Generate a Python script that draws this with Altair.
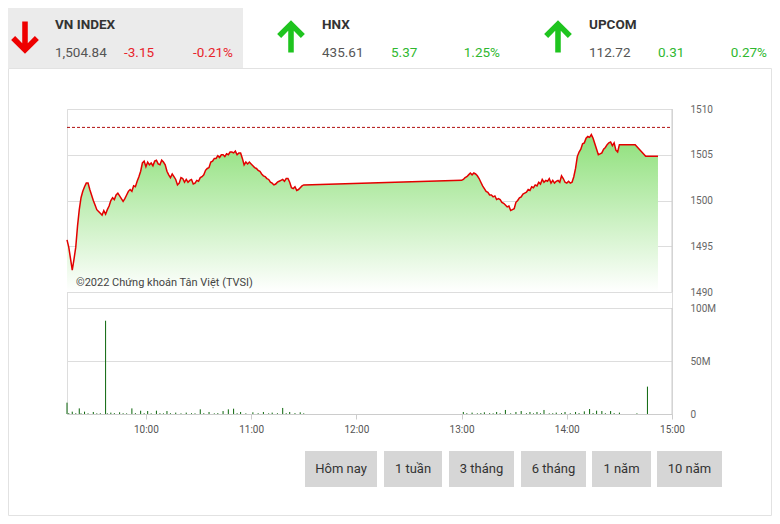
import altair as alt
import pandas as pd

# ---------------- data ----------------
price_times = ["09:15", "09:16", "09:18", "09:20", "09:22", "09:25", "09:27", "09:30", "09:33", "09:35",
               "09:38", "09:40", "09:44", "09:47", "09:51", "09:54", "09:57", "09:58",
               "10:02", "10:06", "10:08", "10:10", "10:13", "10:16", "10:18", "10:21", "10:25", "10:28",
               "10:32", "10:35", "10:39", "10:44", "10:49", "10:53", "10:56", "10:59",
               "11:05", "11:09", "11:13", "11:17", "11:21", "11:24", "11:27", "11:30",
               "13:00", "13:04", "13:07", "13:10", "13:13", "13:17", "13:21", "13:25", "13:29", "13:32",
               "13:36", "13:40", "13:48", "13:54", "13:58",
               "14:02", "14:04", "14:06", "14:09", "14:12", "14:14", "14:16", "14:18", "14:20", "14:23",
               "14:25", "14:28", "14:29", "14:30", "14:39", "14:45", "14:52"]
price_values = [1495.7, 1494.9, 1492.4, 1494.9, 1499.0, 1501.5, 1501.9, 1500.0, 1498.8, 1498.4,
                1499.0, 1500.0, 1500.8, 1499.9, 1501.2, 1501.5, 1503.2, 1504.1,
                1503.9, 1504.4, 1503.9, 1504.2, 1502.8, 1502.6, 1501.7, 1502.4, 1502.2, 1501.9,
                1502.6, 1503.5, 1504.6, 1505.0, 1505.3, 1505.2, 1503.9, 1504.2,
                1503.2, 1502.4, 1501.7, 1502.2, 1502.4, 1501.3, 1501.2, 1501.7,
                1502.2, 1502.8, 1503.0, 1502.4, 1501.3, 1500.6, 1500.2, 1499.5, 1499.0, 1500.0,
                1500.8, 1501.5, 1502.2, 1502.1, 1502.4,
                1501.9, 1502.6, 1504.8, 1506.2, 1507.0, 1507.2, 1506.2, 1505.0, 1505.2, 1506.1,
                1506.4, 1505.5, 1505.3, 1506.1, 1506.1, 1504.84, 1504.84]

# finer readings of the jagged intraday line
detail_times = ["09:19", "09:21", "09:23", "09:24", "09:26", "09:28", "09:29", "09:31", "09:32", "09:34",
                "09:36", "09:37", "09:39", "09:41", "09:42", "09:43", "09:45", "09:46", "09:48", "09:49",
                "09:50", "09:52", "09:53", "09:55", "09:56", "09:59", "10:00", "10:01", "10:03", "10:04",
                "10:05", "10:07", "10:09", "10:11", "10:12", "10:14", "10:15", "10:17", "10:19", "10:20",
                "10:22", "10:23", "10:24", "10:26", "10:27", "10:29", "10:30", "10:31", "10:33", "10:34",
                "10:36", "10:37", "10:38", "10:40", "10:41", "10:42", "10:43", "10:45", "10:46", "10:47",
                "10:48", "10:50", "10:51", "10:52", "10:54", "10:55", "10:57", "10:58", "11:00", "11:01",
                "11:02", "11:03", "11:04", "11:06", "11:07", "11:08", "11:10", "11:11", "11:12", "11:14",
                "11:15", "11:16", "11:18", "11:19", "11:20", "11:22", "11:23", "11:25", "11:26", "11:28",
                "11:29",
                "13:01", "13:02", "13:03", "13:05", "13:06", "13:08", "13:09", "13:11", "13:12", "13:14",
                "13:15", "13:16", "13:18", "13:19", "13:20", "13:22", "13:23", "13:24", "13:26", "13:27",
                "13:28", "13:30", "13:31", "13:33", "13:34", "13:35", "13:37", "13:38", "13:39", "13:41",
                "13:42", "13:43", "13:44", "13:45", "13:46", "13:47", "13:49", "13:50", "13:51", "13:52",
                "13:53", "13:55", "13:56", "13:57", "13:59", "14:00", "14:01", "14:03", "14:05", "14:07",
                "14:08", "14:10", "14:11", "14:13", "14:15", "14:17", "14:19", "14:21", "14:22", "14:24",
                "14:26", "14:27"]
detail_values = [1493.6, 1497.2, 1500.3, 1501.0, 1501.9, 1501.2, 1500.6, 1499.5, 1499.0, 1498.6,
                 1498.9, 1498.5, 1499.4, 1500.3, 1500.1, 1500.6, 1500.5, 1500.2, 1500.2, 1500.6,
                 1501.0, 1501.0, 1501.6, 1502.1, 1502.6, 1504.3, 1503.7, 1504.2, 1504.1, 1503.8,
                 1504.3, 1504.0, 1504.4, 1503.9, 1503.2, 1502.5, 1502.9, 1502.3, 1501.9, 1502.5,
                 1502.0, 1502.3, 1502.0, 1502.3, 1501.8, 1502.2, 1502.1, 1502.5, 1502.8, 1503.3,
                 1503.6, 1504.2, 1504.3, 1504.6, 1504.9, 1504.7, 1505.0, 1504.8, 1505.1, 1505.0,
                 1505.3, 1505.2, 1505.4, 1505.0, 1505.2, 1504.6, 1504.2, 1504.0, 1504.0, 1503.8,
                 1503.6, 1503.5, 1503.3, 1502.9, 1502.7, 1502.6, 1502.3, 1502.0, 1501.9, 1501.8,
                 1502.0, 1502.1, 1502.3, 1502.1, 1502.4, 1502.0, 1501.4, 1501.5, 1501.1, 1501.4,
                 1501.6,
                 1502.3, 1502.5, 1502.6, 1503.0, 1502.8, 1502.9, 1502.7, 1502.0, 1501.6, 1501.0,
                 1500.9, 1500.6, 1500.4, 1500.5, 1500.1, 1500.1, 1499.8, 1499.7, 1499.3, 1499.4,
                 1498.9, 1499.1, 1499.8, 1500.3, 1500.4, 1500.7, 1500.9, 1501.2, 1501.1, 1501.4,
                 1501.7, 1501.6, 1502.0, 1501.8, 1502.3, 1502.0, 1502.1, 1502.4, 1501.9, 1502.2,
                 1501.9, 1502.2, 1502.0, 1502.7, 1502.0, 1501.9, 1502.1, 1502.0, 1503.5, 1505.3,
                 1505.6, 1506.3, 1506.8, 1506.9, 1506.8, 1505.6, 1505.1, 1505.6, 1505.8, 1506.3,
                 1506.0, 1506.3]
reference_close = 1507.99

vol_times = ["09:15", "09:16", "09:18", "09:20", "09:22", "09:23", "09:25", "09:27", "09:30", "09:32",
             "09:34", "09:37", "09:38", "09:40", "09:42", "09:45", "09:47", "09:49", "09:52", "09:54",
             "09:57", "09:59", "10:01", "10:03", "10:06", "10:08", "10:10", "10:12", "10:14", "10:17",
             "10:20", "10:23", "10:26", "10:28", "10:31", "10:33", "10:36", "10:39", "10:41", "10:44",
             "10:47", "10:50", "10:52", "10:54", "10:57", "11:01", "11:04", "11:07", "11:10", "11:12",
             "11:15", "11:18", "11:20", "11:22", "11:25", "11:28", "11:30",
             "13:01", "13:03", "13:06", "13:09", "13:11", "13:13", "13:16", "13:18", "13:20", "13:22",
             "13:25", "13:28", "13:31", "13:34", "13:37", "13:39", "13:41", "13:43", "13:45", "13:47",
             "13:50", "13:52", "13:54", "13:57", "13:59", "14:02", "14:05", "14:07", "14:10", "14:13",
             "14:15", "14:17", "14:20", "14:22", "14:25", "14:27", "14:30", "14:40", "14:46"]
vol_values = [10.7, 0.8, 2.2, 0.7, 5.3, 0.6, 2.2, 0.6, 1.9, 0.6,
              0.7, 88.0, 0.6, 1.3, 0.8, 1.6, 0.7, 0.6, 5.3, 0.8,
              3.1, 0.7, 2.8, 0.6, 3.1, 0.7, 0.6, 2.8, 0.7, 1.3,
              0.6, 1.3, 0.7, 0.6, 4.4, 0.7, 1.9, 0.6, 0.8, 2.8,
              4.4, 5.0, 0.7, 1.9, 0.6, 1.6, 0.7, 1.9, 0.6, 1.3,
              0.7, 5.7, 0.7, 1.9, 0.8, 1.6, 0.6,
              1.9, 0.7, 1.3, 0.6, 0.8, 1.6, 0.7, 0.6, 1.9, 0.7,
              3.8, 0.6, 1.9, 2.8, 0.7, 1.9, 0.6, 1.9, 0.7, 3.8,
              0.6, 0.7, 1.3, 0.8, 1.9, 0.7, 1.9, 0.8, 2.5, 4.7,
              0.8, 3.1, 2.8, 0.7, 2.8, 0.8, 1.3, 0.6, 25.8]  # millions

price_ticks = [1490, 1495, 1500, 1505, 1510]
vol_ticks = [0, 50, 100]
time_ticks = ["10:00", "11:00", "12:00", "13:00", "14:00", "15:00"]
time_start, time_end = "09:15", "15:00"

idx_names = ["VN INDEX", "HNX", "UPCOM"]
idx_values = ["1,504.84", "435.61", "112.72"]
idx_changes = ["-3.15", "5.37", "0.31"]
idx_pcts = ["-0.21%", "1.25%", "0.27%"]
idx_up = [False, True, True]

buttons = ["Hôm nay", "1 tuần", "3 tháng", "6 tháng", "1 năm", "10 năm"]
watermark = "©2022 Chứng khoán Tân Việt (TVSI)"

assert len(price_times) == len(price_values)
assert len(detail_times) == len(detail_values)
assert len(vol_times) == len(vol_values)


def to_min(s):
    h, m = s.split(":")
    return int(h) * 60 + int(m)


price_df = pd.DataFrame({"t": [to_min(s) for s in price_times + detail_times],
                         "v": price_values + detail_values})
price_df = price_df.drop_duplicates("t").sort_values("t").reset_index(drop=True)
vol_df = pd.DataFrame({"t": [to_min(s) for s in vol_times], "v": vol_values})

# ---------------- layout ----------------
W, H = 605, 305
P_TOP_PX, P_BOT_PX = 0, 183      # price panel rows
V_TOP_PX, V_BOT_PX = 199, 305    # volume panel rows
FONT = "Roboto"

p_per_px = (max(price_ticks) - min(price_ticks)) / (P_BOT_PX - P_TOP_PX)
p_dom = [max(price_ticks) - H * p_per_px, max(price_ticks)]
v_per_px = (max(vol_ticks) - min(vol_ticks)) / (V_BOT_PX - V_TOP_PX)
v_dom = [0, max(vol_ticks) + V_TOP_PX * v_per_px]

x_scale = alt.Scale(domain=[to_min(time_start), to_min(time_end)], nice=False, zero=False)
x_axis = alt.Axis(values=[to_min(s) for s in time_ticks],
                  labelExpr="floor(datum.value/60) + ':' + format(datum.value % 60, '02d')",
                  grid=False, domainColor="#cccccc", tickColor="#cccccc", tickSize=5,
                  labelColor="#555555", labelFontSize=10, labelFont=FONT, labelPadding=5,
                  labelFlush=False, title=None)
p_axis = alt.Axis(orient="right", values=price_ticks, grid=True, gridColor="#dddddd",
                  domain=False, ticks=False, tickSize=0, labelPadding=18, offset=0,
                  labelColor="#666666", labelFontSize=10, labelFont=FONT, title=None,
                  labelFlush=False, format="d")
v_axis = alt.Axis(orient="right", values=vol_ticks, grid=True, gridColor="#dddddd",
                  domain=False, ticks=False, tickSize=0, labelPadding=18, offset=0,
                  labelColor="#666666", labelFontSize=10, labelFont=FONT, title=None,
                  labelFlush=False,
                  labelExpr="datum.value == 0 ? '0' : datum.value + 'M'")
p_scale = alt.Scale(domain=p_dom, nice=False, zero=False)
v_scale = alt.Scale(domain=v_dom, nice=False, zero=False)

X = alt.X("t:Q", scale=x_scale, axis=x_axis)

# ---------------- price panel ----------------
grad = alt.Gradient(gradient="linear",
                    stops=[alt.GradientStop(color="#8ee07a", offset=0),
                           alt.GradientStop(color="#ffffff", offset=1)],
                    x1=1, x2=1, y1=0, y2=1)
area = alt.Chart(price_df).mark_area(color=grad, interpolate="linear").encode(
    x=X, y=alt.Y("v:Q", scale=p_scale, axis=p_axis), y2=alt.datum(min(price_ticks)))
line = alt.Chart(price_df).mark_line(color="#e30000", strokeWidth=1.5).encode(
    x=X, y=alt.Y("v:Q", scale=p_scale, axis=p_axis))
ref = alt.Chart().mark_rule(color="#b01010", strokeDash=[3, 2], strokeWidth=1).encode(
    y=alt.datum(reference_close), x=alt.value(0), x2=alt.value(W))
p_border = alt.Chart().mark_rule(color="#cccccc").encode(
    x=alt.value(W), y=alt.datum(max(price_ticks)), y2=alt.datum(min(price_ticks)))
wm = alt.Chart().mark_text(align="left", baseline="middle", font=FONT, fontSize=11,
                           color="#444444").encode(
    x=alt.value(9), y=alt.value(174), text=alt.value(watermark))
price_layer = alt.layer(area, line, ref, p_border, wm)

# ---------------- volume panel ----------------
bars = alt.Chart(vol_df).mark_rule(color="#0b650b", strokeWidth=1).encode(
    x=X, y=alt.Y("v:Q", scale=v_scale, axis=v_axis), y2=alt.datum(0))
v_border = alt.Chart().mark_rule(color="#cccccc").encode(
    x=alt.value(W), y=alt.datum(0), y2=alt.datum(max(vol_ticks)))
volume_layer = alt.layer(bars, v_border)

# ---------------- decoration ----------------
deco = []
deco.append(alt.Chart().mark_rect(fillOpacity=0, stroke="#e2e2e2", strokeWidth=1).encode(
    x=alt.value(-58.5), x2=alt.value(704.5), y=alt.value(-40.5), y2=alt.value(406.5)))
deco.append(alt.Chart().mark_rect(color="#ebebeb").encode(
    x=alt.value(-59), x2=alt.value(176), y=alt.value(-101), y2=alt.value(-41)))

down_arrow = ("M -0.18 -1 L 0.18 -1 L 0.18 0.40 L 0.64 -0.06 L 0.9 0.2 L 0 1.08 "
              "L -0.9 0.2 L -0.64 -0.06 L -0.18 0.40 Z")
up_arrow = ("M -0.18 1 L 0.18 1 L 0.18 -0.40 L 0.64 0.06 L 0.9 -0.2 L 0 -1.08 "
            "L -0.9 -0.2 L -0.64 0.06 L -0.18 -0.40 Z")

col_x = [-12, 255, 522]
arrow_x = [-42, 224, 491]
for i in range(3):
    up = idx_up[i]
    c = "#2fb82f" if up else "#e8232b"
    deco.append(alt.Chart().mark_point(shape=up_arrow if up else down_arrow, filled=True,
                                       size=950, opacity=1, strokeWidth=0,
                                       color="#1fc41f" if up else "#ee0000").encode(
        x=alt.value(arrow_x[i]), y=alt.value(-72)))
    deco.append(alt.Chart().mark_text(align="left", baseline="middle", font=FONT, fontSize=13.5,
                                      fontWeight="bold", color="#333333").encode(
        x=alt.value(col_x[i]), y=alt.value(-84), text=alt.value(idx_names[i])))
    deco.append(alt.Chart().mark_text(align="left", baseline="middle", font=FONT, fontSize=13.5,
                                      color="#555555").encode(
        x=alt.value(col_x[i]), y=alt.value(-56), text=alt.value(idx_values[i])))
    deco.append(alt.Chart().mark_text(align="left", baseline="middle", font=FONT, fontSize=13.5,
                                      color=c).encode(
        x=alt.value(col_x[i] + 69), y=alt.value(-56), text=alt.value(idx_changes[i])))
    deco.append(alt.Chart().mark_text(align="right", baseline="middle", font=FONT, fontSize=13.5,
                                      color=c).encode(
        x=alt.value(col_x[i] + 178), y=alt.value(-56), text=alt.value(idx_pcts[i])))

btn_x = [(238, 310), (317, 375), (382, 447), (454, 519), (525, 584), (590, 655)]
for lab, (a, b) in zip(buttons, btn_x):
    deco.append(alt.Chart().mark_rect(color="#d6d6d6").encode(
        x=alt.value(a), x2=alt.value(b), y=alt.value(342), y2=alt.value(378)))
    deco.append(alt.Chart().mark_text(align="center", baseline="middle", font=FONT, fontSize=13,
                                      color="#333333").encode(
        x=alt.value((a + b) / 2), y=alt.value(360), text=alt.value(lab)))

chart = alt.layer(deco[0], deco[1], price_layer, volume_layer, *deco[2:]).resolve_scale(
    y="independent"
).properties(
    width=W, height=H,
    autosize=alt.AutoSizeParams(type="none"),
    padding={"left": 59, "top": 101, "right": 100, "bottom": 102},
    background="#ffffff",
).configure_view(strokeWidth=0).configure(font=FONT)

chart.save("out.html", embed_options={"renderer": "svg", "actions": False})
